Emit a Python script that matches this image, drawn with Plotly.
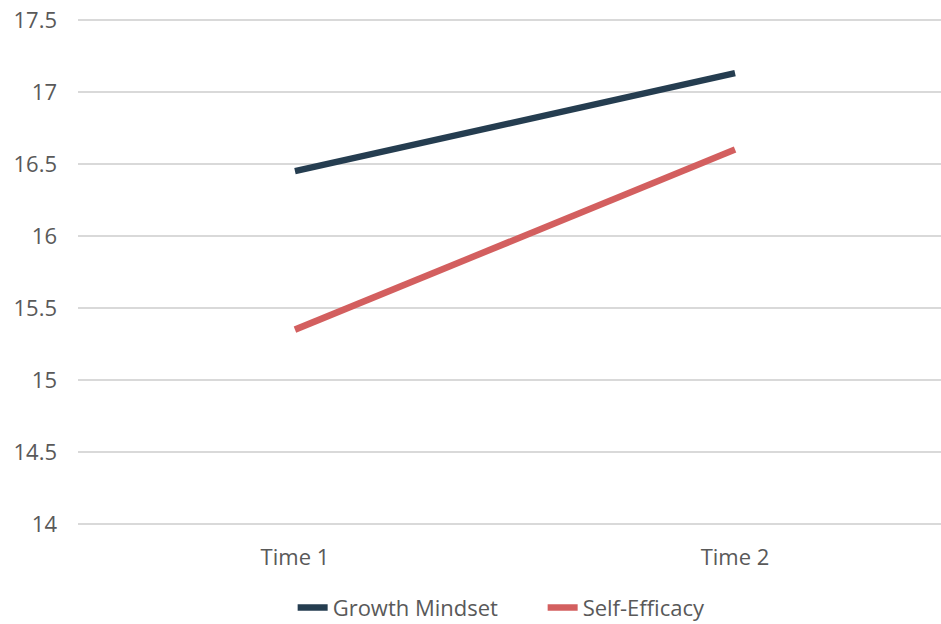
import plotly.graph_objects as go

# Survey scores at the two measurement points
times = ["Time 1", "Time 2"]
growth_mindset = [16.45, 17.13]
self_efficacy = [15.35, 16.60]

y_ticks = [14, 14.5, 15, 15.5, 16, 16.5, 17, 17.5]
y_tick_text = ["14", "14.5", "15", "15.5", "16", "16.5", "17", "17.5"]

text_color = "#595959"
font_family = "Open Sans, Segoe UI, sans-serif"

fig = go.Figure()
fig.add_trace(go.Scatter(
    x=times, y=growth_mindset, mode="lines", name="Growth Mindset",
    line=dict(color="#253D50", width=6.5),
))
fig.add_trace(go.Scatter(
    x=times, y=self_efficacy, mode="lines", name="Self-Efficacy",
    line=dict(color="#D35F5F", width=6.5),
))

fig.update_layout(
    width=941, height=624,
    margin=dict(l=78, r=0, t=17, b=97, autoexpand=False),
    paper_bgcolor="white", plot_bgcolor="white",
    font=dict(family=font_family, size=22, color=text_color),
    showlegend=True,
    legend=dict(
        orientation="h", x=0.311, xanchor="left", xref="container",
        y=0.026, yanchor="middle", yref="container",
        font=dict(size=22, color=text_color), itemwidth=30,
        entrywidth=205, entrywidthmode="pixels",
    ),
)
fig.update_xaxes(
    type="category", range=[-0.493, 1.468],
    showgrid=False, showline=False, zeroline=False,
    ticks="", ticklabelstandoff=15,
)
fig.update_yaxes(
    range=[13.98, 17.52], tickvals=y_ticks, ticktext=y_tick_text,
    showgrid=True, gridcolor="#D9D9D9", gridwidth=2,
    showline=False, zeroline=False, ticks="", ticklabelstandoff=20,
)

fig.write_html("out.html")
